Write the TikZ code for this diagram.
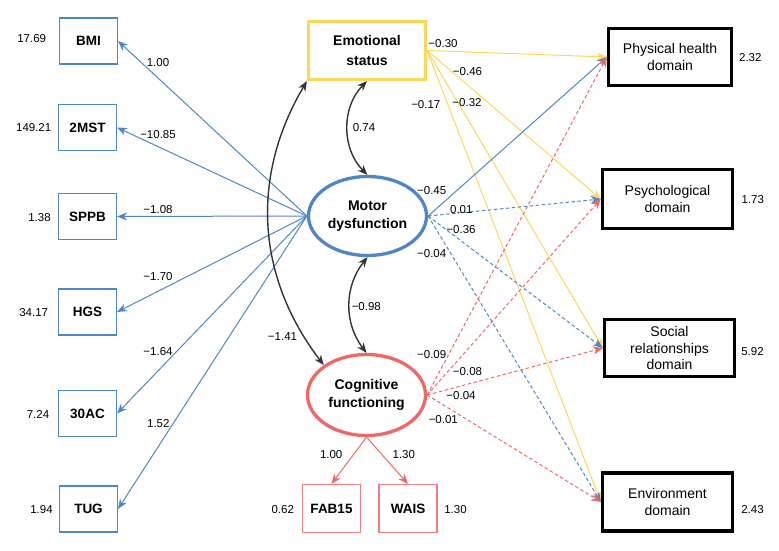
\documentclass[tikz,border=0pt]{standalone}
\usepackage{fontspec}
\setmainfont{Liberation Sans}
\usetikzlibrary{shapes.geometric,arrows.meta}
\definecolor{cblue}{RGB}{79,134,198}
\definecolor{cyel}{RGB}{255,214,88}
\definecolor{cred}{RGB}{242,102,102}
\definecolor{cdark}{RGB}{51,51,51}
\begin{document}
\begin{tikzpicture}[x=1pt,y=-1pt,
  lbox/.style={draw=cblue,line width=1.1pt,minimum width=58pt,minimum height=46pt,inner sep=0pt,font=\fontsize{13.5}{16}\selectfont\bfseries},
  rlbox/.style={draw=cred!85,line width=1.1pt,minimum width=58pt,minimum height=48pt,inner sep=0pt,font=\fontsize{13.5}{16}\selectfont\bfseries},
  rbox/.style={draw=black,line width=3.3pt,inner sep=0pt,align=center,font=\fontsize{14}{17}\selectfont},
  latent/.style={ellipse,line width=3.3pt,inner sep=0pt,minimum width=118pt,minimum height=79pt,align=center,font=\fontsize{14}{18}\selectfont\bfseries},
  num/.style={font=\fontsize{11.5}{13}\selectfont,inner sep=0pt},
  tip/.style={-{Stealth[length=10pt,width=8pt]}},
  conn/.style={tip,line width=1pt},
  dsh/.style={dash pattern=on 3.5pt off 2.5pt},
  cor/.style={{Stealth[length=10pt,width=8pt]}-{Stealth[length=10pt,width=8pt]},line width=1.4pt,draw=cdark}
]
\useasboundingbox (0,0) rectangle (779,551);
% left indicators
\node[lbox] (bmi) at (88.5,41) {BMI};
\node[lbox] (mst) at (87.5,127.5) {2MST};
\node[lbox] (sppb) at (87.5,216.5) {SPPB};
\node[lbox] (hgs) at (87.5,312) {HGS};
\node[lbox] (ac) at (87.5,413.5) {30AC};
\node[lbox] (tug) at (88.5,509) {TUG};
\node[num] (vbmi) at (31.7,39) {17.69};
\node[num] (vmst) at (33.7,128) {149.21};
\node[num] (vsppb) at (39.5,218) {1.38};
\node[num] (vhgs) at (33.7,312.7) {34.17};
\node[num] (vac) at (38,414.3) {7.24};
\node[num] (vtug) at (41.5,509.3) {1.94};
% latent
\node[draw=cyel,line width=3.2pt,minimum width=117pt,minimum height=58pt,inner sep=0pt,align=center,font=\fontsize{14}{20}\selectfont\bfseries] (emo) at (367,50.5) {Emotional\\status};
\node[latent,draw=cblue] (mot) at (367.5,216) {Motor\\dysfunction};
\node[latent,draw=cred,minimum height=81pt] (cog) at (366.5,395) {Cognitive\\functioning};
\node[rlbox] (fab) at (331.5,508.5) {FAB15};
\node[rlbox] (wais) at (408,508.5) {WAIS};
\node[num] (vfab) at (282.8,509.3) {0.62};
\node[num] (vwais) at (455.5,509.3) {1.30};
% right outcomes
\node[rbox,minimum width=123pt,minimum height=57pt] (phy) at (670,57) {Physical health\\domain};
\node[rbox,minimum width=130pt,minimum height=59pt] (psy) at (667.5,199) {Psychological\\domain};
\node[rbox,minimum width=130pt,minimum height=57pt,font=\fontsize{14}{16.5}\selectfont] (soc) at (669.5,348) {Social\\relationships\\domain};
\node[rbox,minimum width=130pt,minimum height=58pt] (env) at (667.5,502) {Environment\\domain};
\node[num] (vphy) at (750.3,57.3) {2.32};
\node[num] (vpsy) at (752.8,200) {1.73};
\node[num] (vsoc) at (752.5,351.7) {5.92};
\node[num] (venv) at (752.5,509.3) {2.43};
% loadings motor
\draw[conn,cblue] (mot.west) -- (bmi.east);
\draw[conn,cblue] (mot.west) -- (mst.east);
\draw[conn,cblue] (mot.west) -- (sppb.east);
\draw[conn,cblue] (mot.west) -- (hgs.east);
\draw[conn,cblue] (mot.west) -- (ac.east);
\draw[conn,cblue] (mot.west) -- (tug.east);
\node[num] (l1) at (158,62.3) {1.00};
\node[num] (l2) at (158,134.3) {−10.85};
\node[num] (l3) at (158,209.3) {−1.08};
\node[num] (l4) at (158,276.7) {−1.70};
\node[num] (l5) at (158,351.7) {−1.64};
\node[num] (l6) at (158.3,424) {1.52};
% loadings cognitive
\draw[conn,cred] (cog.south) -- (fab.north);
\draw[conn,cred] (cog.south) -- (wais.north);
\node[num] (l7) at (331.2,455) {1.00};
\node[num] (l8) at (403.8,455) {1.30};
% emotional paths
\draw[conn,cyel] (emo.east) -- (phy.west);
\draw[conn,cyel] (emo.east) -- (psy.west);
\draw[conn,cyel] (emo.east) -- (soc.west);
\draw[conn,cyel] (emo.east) -- (env.west);
\node[num] (e1) at (443,43.3) {−0.30};
\node[num] (e2) at (467.5,71.7) {−0.46};
\node[num] (e3) at (467,102.3) {−0.32};
\node[num] (e4) at (425.8,104.3) {−0.17};
% motor paths
\draw[conn,cblue] (mot.east) -- (phy.west);
\draw[conn,cblue,dsh] (mot.east) -- (psy.west);
\draw[conn,cblue,dsh] (mot.east) -- (soc.west);
\draw[conn,cblue,dsh] (mot.east) -- (env.west);
\node[num] (m1) at (431.7,191) {−0.45};
\node[num] (m2) at (461.3,209.3) {0.01};
\node[num] (m3) at (461,229.3) {−0.36};
\node[num] (m4) at (431.7,253.3) {−0.04};
% cognitive paths
\draw[conn,cred,dsh] (cog.east) -- (phy.west);
\draw[conn,cred,dsh] (cog.east) -- (psy.west);
\draw[conn,cred,dsh] (cog.east) -- (soc.west);
\draw[conn,cred,dsh] (cog.east) -- (env.west);
\node[num] (c1) at (431.7,354.3) {−0.09};
\node[num] (c2) at (467.5,371.7) {−0.08};
\node[num] (c3) at (461,396) {−0.04};
\node[num] (c4) at (443.3,420) {−0.01};
% correlations
\draw[cor] (emo.south) to[bend right=45] (mot.north);
\draw[cor] (mot.south) to[bend right=38] (cog.north);
\draw[cor] (emo.south west) to[bend right=34] (cog.145);
\node[num] (k1) at (364,127.7) {0.74};
\node[num] (k2) at (366.3,306.7) {−0.98};
\node[num] (k3) at (282.5,336.7) {−1.41};
\end{tikzpicture}
\end{document}
